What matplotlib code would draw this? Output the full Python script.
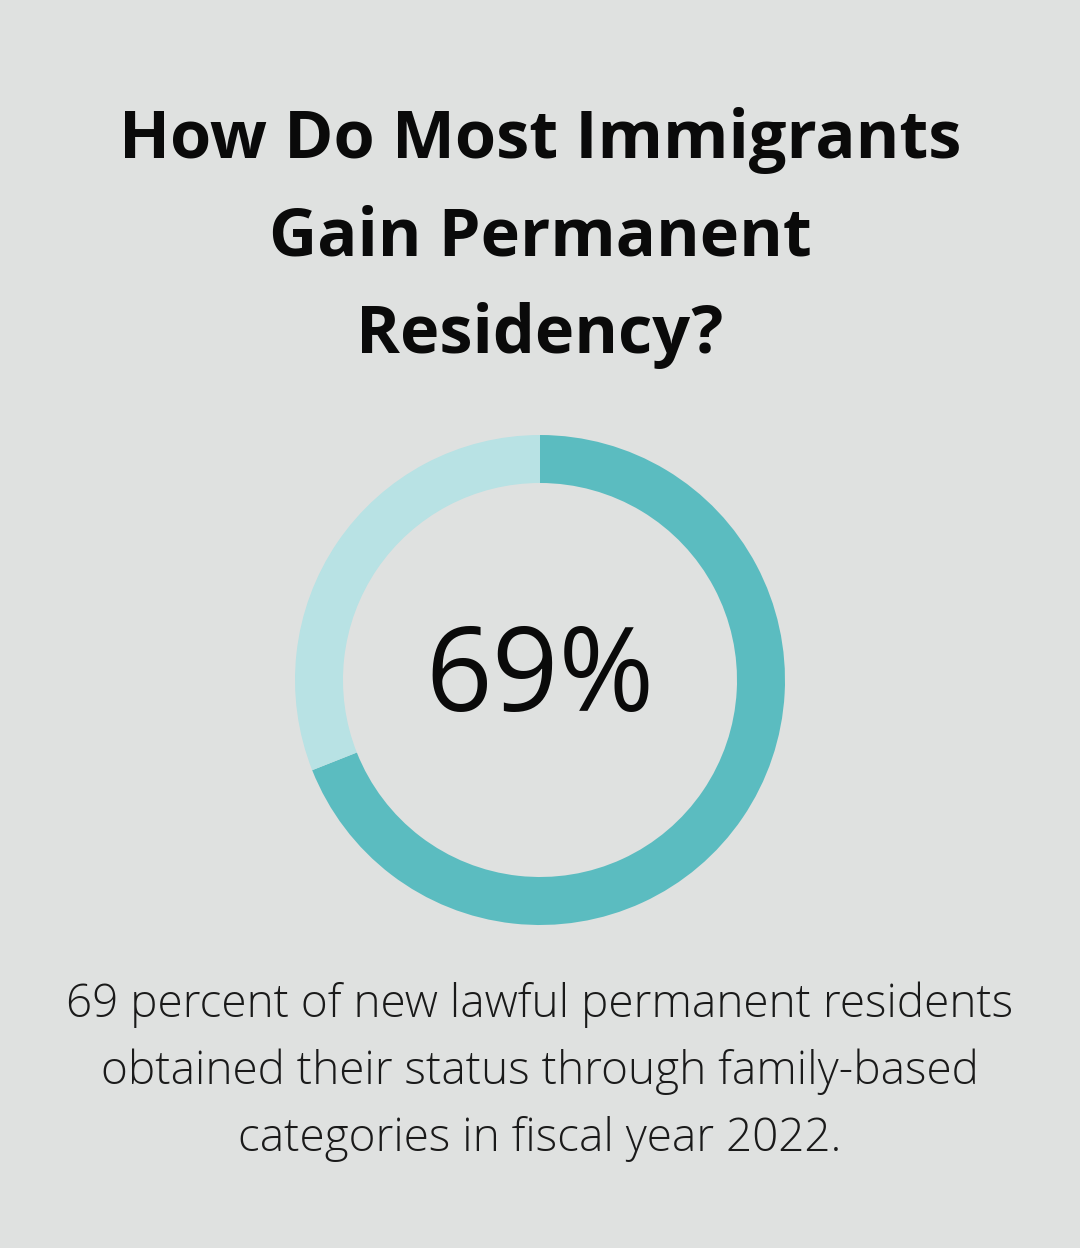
import matplotlib.pyplot as plt

title_lines = ["How Do Most Immigrants", "Gain Permanent", "Residency?"]
shares = [69, 31]
colors = ["#5BBCC0", "#B8E2E4"]
center_label = "69%"
caption_lines = ["69 percent of new lawful permanent residents",
                 "obtained their status through family-based",
                 "categories in fiscal year 2022."]

bg = "#DFE1E0"
fig = plt.figure(figsize=(10.8, 12.48), dpi=100, facecolor=bg)

# donut: center (540, 680) px, outer radius 245 px
ax = fig.add_axes([(540 - 245) / 1080, 1 - (680 + 245) / 1248, 490 / 1080, 490 / 1248])
ax.set_facecolor(bg)
ax.pie(shares, colors=colors, startangle=90, counterclock=False,
       wedgeprops=dict(width=48 / 245, edgecolor="none"), radius=1)
ax.set_xlim(-1, 1)
ax.set_ylim(-1, 1)
ax.set_aspect("equal")
ax.axis("off")
ax.text(0, 0, center_label, ha="center", va="center", fontsize=84,
        fontfamily="Open Sans", color="#0a0a0a")

for i, line in enumerate(title_lines):
    fig.text(0.5, 1 - (140 + i * 98) / 1248, line, ha="center", va="center",
             fontsize=48, fontweight="bold", fontfamily="Open Sans", color="#0a0a0a")

for i, line in enumerate(caption_lines):
    fig.text(0.5, 1 - (1005 + i * 67) / 1248, line, ha="center", va="center",
             fontsize=33, fontweight="light", fontfamily="Open Sans", color="#1a1a1a")

fig.savefig("out.png", dpi=100, facecolor=bg)
